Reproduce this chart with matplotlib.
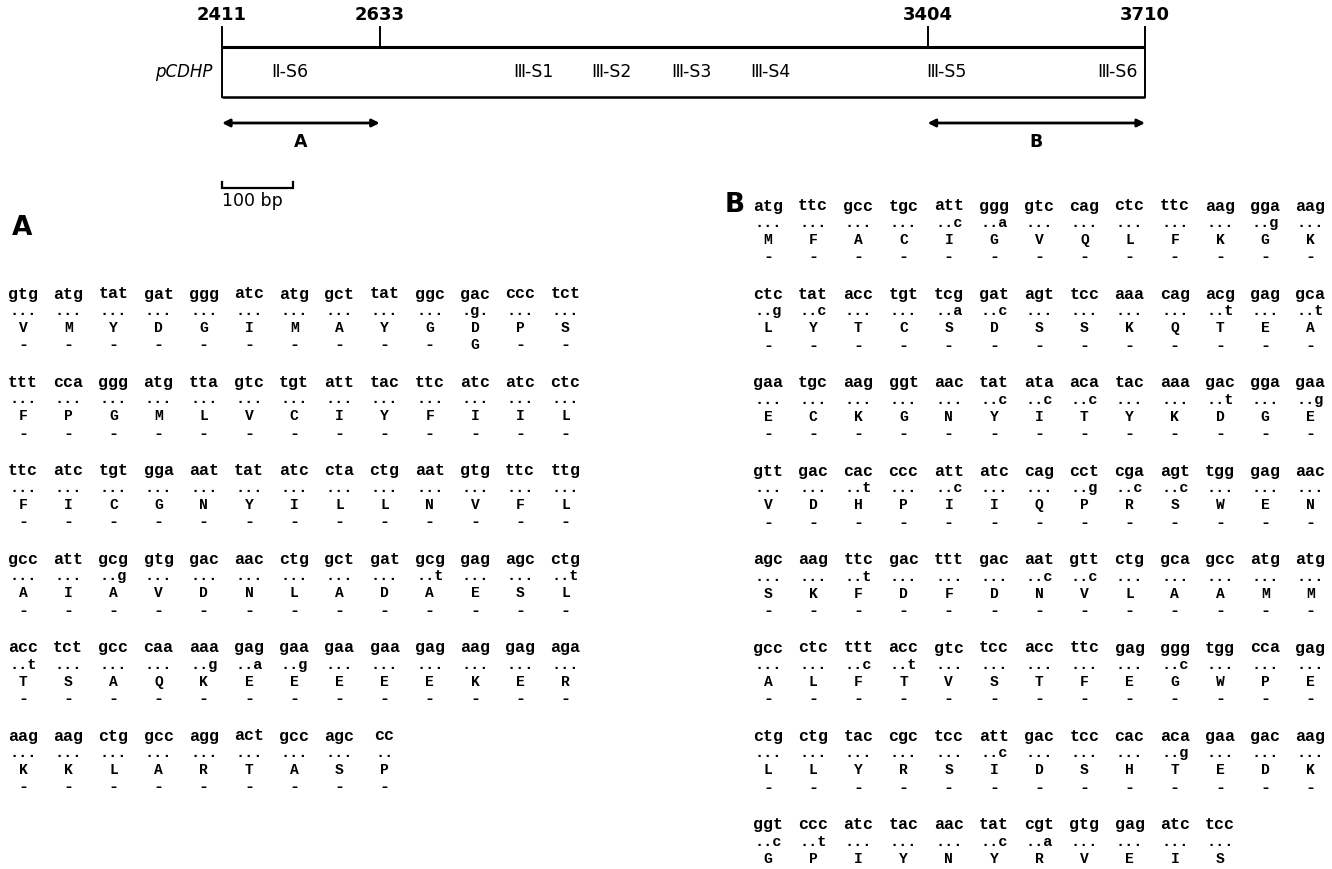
import matplotlib
matplotlib.use('Agg')
import matplotlib.pyplot as plt

# ---------------- data ----------------
map_start, map_end = 2411, 3710
map_ticks = [2411, 2633, 3404, 3710]
segment_labels = ['Ⅱ-S6', 'Ⅲ-S1', 'Ⅲ-S2', 'Ⅲ-S3', 'Ⅲ-S4', 'Ⅲ-S5', 'Ⅲ-S6']
segment_pos = [2507, 2849, 2959, 3071, 3183, 3431, 3672]
fragment_names = ['A', 'B']
fragment_spans = [(2411, 2633), (3404, 3710)]
scale_bar_bp = 100
clone_name = 'pCDHP'

A_codons = [
    "gtg atg tat gat ggg atc atg gct tat ggc gac ccc tct",
    "ttt cca ggg atg tta gtc tgt att tac ttc atc atc ctc",
    "ttc atc tgt gga aat tat atc cta ctg aat gtg ttc ttg",
    "gcc att gcg gtg gac aac ctg gct gat gcg gag agc ctg",
    "acc tct gcc caa aaa gag gaa gaa gaa gag aag gag aga",
    "aag aag ctg gcc agg act gcc agc cc",
]
A_subs = [
    "... ... ... ... ... ... ... ... ... ... .g. ... ...",
    "... ... ... ... ... ... ... ... ... ... ... ... ...",
    "... ... ... ... ... ... ... ... ... ... ... ... ...",
    "... ... ..g ... ... ... ... ... ... ..t ... ... ..t",
    "..t ... ... ... ..g ..a ..g ... ... ... ... ... ...",
    "... ... ... ... ... ... ... ... ..",
]
A_aa = [
    "V M Y D G I M A Y G D P S",
    "F P G M L V C I Y F I I L",
    "F I C G N Y I L L N V F L",
    "A I A V D N L A D A E S L",
    "T S A Q K E E E E E K E R",
    "K K L A R T A S P",
]
A_marks = [
    "- - - - - - - - - - G - -",
    "- - - - - - - - - - - - -",
    "- - - - - - - - - - - - -",
    "- - - - - - - - - - - - -",
    "- - - - - - - - - - - - -",
    "- - - - - - - - -",
]

B_codons = [
    "atg ttc gcc tgc att ggg gtc cag ctc ttc aag gga aag",
    "ctc tat acc tgt tcg gat agt tcc aaa cag acg gag gca",
    "gaa tgc aag ggt aac tat ata aca tac aaa gac gga gaa",
    "gtt gac cac ccc att atc cag cct cga agt tgg gag aac",
    "agc aag ttc gac ttt gac aat gtt ctg gca gcc atg atg",
    "gcc ctc ttt acc gtc tcc acc ttc gag ggg tgg cca gag",
    "ctg ctg tac cgc tcc att gac tcc cac aca gaa gac aag",
    "ggt ccc atc tac aac tat cgt gtg gag atc tcc",
]
B_subs = [
    "... ... ... ... ..c ..a ... ... ... ... ... ..g ...",
    "..g ..c ... ... ..a ..c ... ... ... ... ..t ... ..t",
    "... ... ... ... ... ..c ..c ..c ... ... ..t ... ..g",
    "... ... ..t ... ..c ... ... ..g ..c ..c ... ... ...",
    "... ... ..t ... ... ... ..c ..c ... ... ... ... ...",
    "... ... ..c ..t ... ... ... ... ... ..c ... ... ...",
    "... ... ... ... ... ..c ... ... ... ..g ... ... ...",
    "..c ..t ... ... ... ..c ..a ... ... ... ...",
]
B_aa = [
    "M F A C I G V Q L F K G K",
    "L Y T C S D S S K Q T E A",
    "E C K G N Y I T Y K D G E",
    "V D H P I I Q P R S W E N",
    "S K F D F D N V L A A M M",
    "A L F T V S T F E G W P E",
    "L L Y R S I D S H T E D K",
    "G P I Y N Y R V E I S",
]
B_marks = [
    "- - - - - - - - - - - - -",
    "- - - - - - - - - - - - -",
    "- - - - - - - - - - - - -",
    "- - - - - - - - - - - - -",
    "- - - - - - - - - - - - -",
    "- - - - - - - - - - - - -",
    "- - - - - - - - - - - - -",
    "",
]

# ---------------- figure ----------------
W, H = 1332, 869
fig = plt.figure(figsize=(W / 100, H / 100), dpi=100)
ax = fig.add_axes([0, 0, 1, 1])
ax.set_xlim(0, W)
ax.set_ylim(H, 0)
ax.axis('off')

# clone map
mx0, mx1, mh = 222, 1145, 215
axm = fig.add_axes([mx0 / W, 1 - mh / H, (mx1 - mx0) / W, mh / H])
axm.set_xlim(map_start, map_end)
axm.set_ylim(mh, 0)
axm.axis('off')

sans = ['Liberation Sans Narrow', 'DejaVu Sans']
axm.plot([map_start, map_end], [47, 47], color='black', lw=2.2, clip_on=False, solid_capstyle='butt')
axm.plot([map_start, map_end], [97, 97], color='black', lw=1.8, clip_on=False, solid_capstyle='butt')
for t in map_ticks:
    bottom = 97 if t in (map_start, map_end) else 47
    axm.plot([t, t], [27, bottom], color='black', lw=1.4, clip_on=False)
    axm.text(t, 15, str(t), ha='center', va='center', fontsize=13,
             family=sans, fontweight='bold', clip_on=False)

axm.annotate(clone_name, xy=(map_start, 72), xytext=(-7, 0), textcoords='offset points',
             ha='right', va='center', fontsize=12, style='italic', family=sans)
for lab, p in zip(segment_labels, segment_pos):
    axm.text(p, 72, lab, ha='center', va='center', fontsize=12.5, family=sans)

for name, (s, e) in zip(fragment_names, fragment_spans):
    axm.annotate('', xy=(e, 123), xytext=(s, 123),
                 arrowprops=dict(arrowstyle='<|-|>', lw=2, color='black',
                                 mutation_scale=11, shrinkA=0, shrinkB=0),
                 annotation_clip=False)
    axm.text((s + e) / 2, 142, name, ha='center', va='center', fontsize=12.5,
             family=sans, fontweight='bold')

sb0, sb1 = map_start, map_start + scale_bar_bp
axm.plot([sb0, sb0, sb1, sb1], [182, 188, 188, 182], color='black', lw=1.6,
         clip_on=False, solid_joinstyle='miter')
axm.text(sb0, 201, f'{scale_bar_bp} bp', ha='left', va='center', fontsize=12.5, family=sans)

# panel labels
ax.text(22, 228, 'A', ha='center', va='center', fontsize=19, fontweight='bold', family='DejaVu Sans')
ax.text(735, 205, 'B', ha='center', va='center', fontsize=19, fontweight='bold', family='DejaVu Sans')

mono = 'Liberation Mono'
dx = 45.2
pitch = 88.4


def draw_block(x0, y0, codons, subs, aas, marks):
    for i in range(len(codons)):
        y = y0 + i * pitch
        rows = [codons[i].split(), subs[i].split(), aas[i].split(), marks[i].split()]
        for j, c in enumerate(rows[0]):
            ax.text(x0 + j * dx, y, c, ha='center', va='center', fontsize=12,
                    family=mono, fontweight='bold')
        for j, s in enumerate(rows[1]):
            ax.text(x0 + j * dx, y + 21, s, ha='center', va='baseline', fontsize=11,
                    family=mono, fontweight='bold')
        for j, a in enumerate(rows[2]):
            ax.text(x0 + j * dx, y + 34, a, ha='center', va='center', fontsize=10.5,
                    family=mono, fontweight='bold')
        for j, m in enumerate(rows[3]):
            ax.text(x0 + j * dx, y + 51, m, ha='center', va='center',
                    fontsize=10.5 if m != '-' else 12,
                    family=mono, fontweight='bold')


draw_block(23, 294, A_codons, A_subs, A_aa, A_marks)
draw_block(768, 206, B_codons, B_subs, B_aa, B_marks)

fig.savefig('out.png', dpi=100, facecolor='white')
